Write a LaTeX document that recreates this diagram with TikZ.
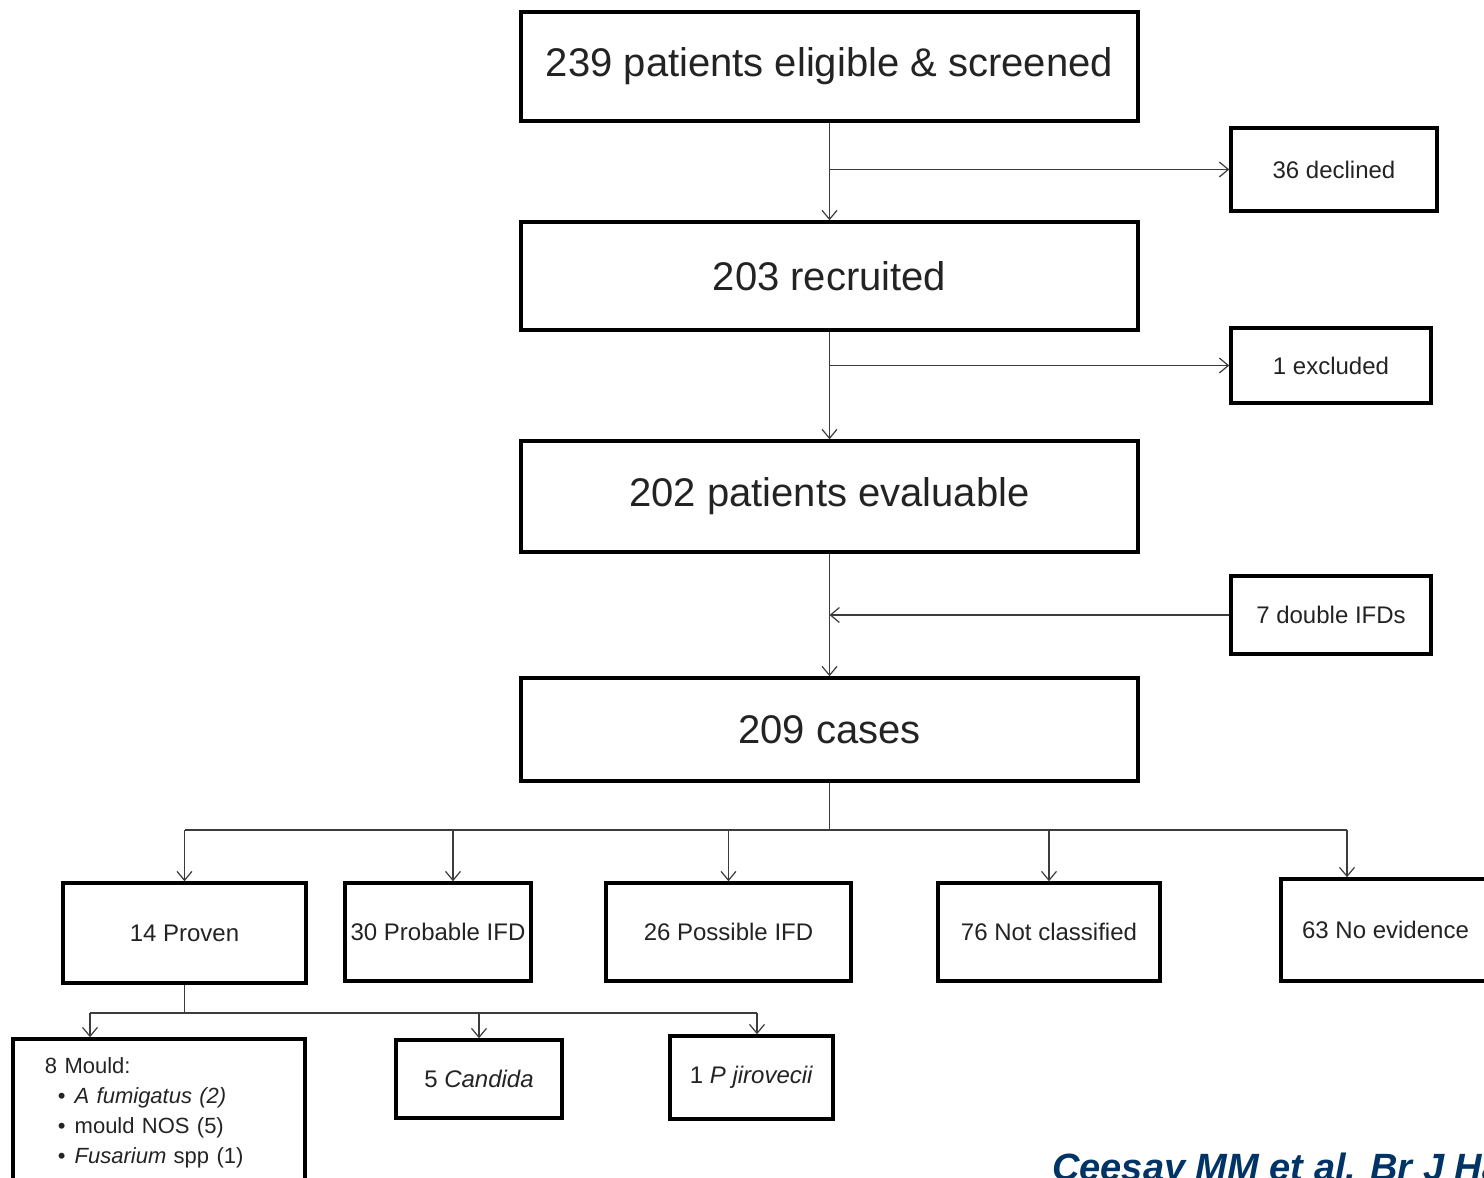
\documentclass[tikz,border=0pt]{standalone}
\usepackage{fontspec}
\setmainfont{Liberation Sans}
\usetikzlibrary{arrows.meta}

\definecolor{citeblue}{RGB}{0,51,102}
\definecolor{linegrey}{RGB}{60,60,60}
\definecolor{textgrey}{RGB}{35,35,35}

\begin{document}
\begin{tikzpicture}[x=1pt,y=1pt,yscale=-1,
  bigbox/.style={draw,line width=3.5pt,minimum width=617pt,text=textgrey,font=\fontsize{40}{44}\selectfont},
  smallbox/.style={draw,line width=3.5pt,text=textgrey,font=\fontsize{24}{28}\selectfont},
  flow/.style={draw=linegrey,line width=1.2pt},
  flowarr/.style={flow,-{Straight Barb[length=9pt,width=15pt]}}]
\useasboundingbox (0,0) rectangle (1484,1178);
\clip (0,0) rectangle (1484,1178);

%Main column
\node[bigbox,minimum height=109pt] (scr) at (829.5,66.5) {239 patients eligible \& screened};
\node[bigbox,minimum height=108pt] (rec) at (829.5,276) {203 recruited};
\node[bigbox,minimum height=111pt] (eva) at (829.5,496.5) {202 patients evaluable};
\node[bigbox,minimum height=103pt] (cas) at (829.5,729.5) {209 cases};

%Side boxes
\node[smallbox,minimum width=206pt,minimum height=83pt] (dec) at (1334,169.5) {36 declined};
\node[smallbox,minimum width=200pt,minimum height=75pt] (exc) at (1331,365.5) {1 excluded};
\node[smallbox,minimum width=200pt,minimum height=78pt] (dbl) at (1331,615) {7 double IFDs};

%Classification row
\node[smallbox,minimum width=243pt,minimum height=100pt] (prv) at (184.5,933) {14 Proven};
\node[smallbox,minimum width=186pt,minimum height=98pt,inner xsep=2pt] (prb) at (438,932) {30 Probable IFD};
\node[smallbox,minimum width=245pt,minimum height=98pt] (pos) at (728.5,932) {26 Possible IFD};
\node[smallbox,minimum width=222pt,minimum height=98pt] (ncl) at (1049,932) {76 Not classified};
\node[smallbox,minimum width=209pt,minimum height=102pt] (nev) at (1385.5,930) {63 No evidence};

%Proven split
\node[smallbox,minimum height=148pt,text width=228pt,inner xsep=32pt,align=left,font=\fontsize{22}{30}\selectfont] (mld) at (159,1113)
  {8 Mould:\\
   \hspace*{13pt}\textbullet\hspace{9pt}\textit{A fumigatus (2)}\\
   \hspace*{13pt}\textbullet\hspace{9pt}mould NOS (5)\\
   \hspace*{13pt}\textbullet\hspace{9pt}\textit{Fusarium} spp (1)};
\node[smallbox,minimum width=166pt,minimum height=78pt] (cnd) at (479,1079) {5 \textit{Candida}};
\node[smallbox,minimum width=163pt,minimum height=83pt] (pji) at (751.5,1077.5) {1 \textit{P jirovecii}};

%Connectors
\draw[flowarr] (scr.south) -- (rec.north);
\coordinate (j1) at (scr.south |- dec.west);
\draw[flowarr] (j1) -- (dec.west);

\draw[flowarr] (rec.south) -- (eva.north);
\coordinate (j2) at (rec.south |- exc.west);
\draw[flowarr] (j2) -- (exc.west);

\draw[flowarr] (eva.south) -- (cas.north);
\coordinate (j3) at (eva.south |- dbl.west);
\draw[flowarr] (dbl.west) -- (j3);

\coordinate (j4) at (829.5,830);
\draw[flow] (cas.south) -- (j4);
\coordinate (b1) at (prv.north |- j4);
\coordinate (b2) at (453,830);
\coordinate (b3) at (pos.north |- j4);
\coordinate (b4) at (ncl.north |- j4);
\coordinate (b5) at (1347,830);
\draw[flow] (b1) -- (b5);
\draw[flowarr] (b1) -- (prv.north);
\draw[flowarr] (b2) -- (b2 |- prb.north);
\draw[flowarr] (b3) -- (pos.north);
\draw[flowarr] (b4) -- (ncl.north);
\draw[flowarr] (b5) -- (b5 |- nev.north);

\coordinate (j5) at (184.5,1013);
\draw[flow] (prv.south) -- (j5);
\coordinate (c1) at (90,1013);
\coordinate (c2) at (cnd.north |- j5);
\coordinate (c3) at (757,1013);
\draw[flow] (c1) -- (c3);
\draw[flowarr] (c1) -- (c1 |- mld.north);
\draw[flowarr] (c2) -- (cnd.north);
\draw[flowarr] (c3) -- (c3 |- pji.north);

% Text Node
\node[anchor=base west,inner sep=0pt,text=citeblue,font=\fontsize{38}{42}\selectfont\bfseries\itshape] (cit) at (1052,1180) {Ceesay MM et al. Br J Haematol};

\end{tikzpicture}
\end{document}
